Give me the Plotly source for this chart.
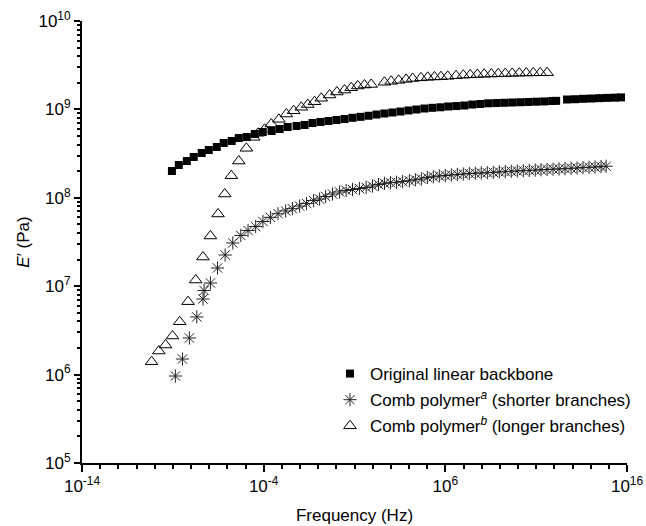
import numpy as np
import plotly.graph_objects as go

# ---- data (log10 values) ----
backbone_logf = [-9.05, -8.67, -8.23, -7.85, -7.41, -7.02, -6.58, -6.20, -5.76, -5.37,
                 -4.93, -4.49, -4.05, -3.56, -3.12, -2.68, -2.19, -1.75, -1.31, -0.87,
                 -0.43, 0.01, 0.45, 0.89, 1.33, 1.77, 2.21, 2.65, 3.09, 3.53,
                 3.97, 4.41, 4.85, 5.29, 5.73, 6.16, 6.60, 7.04, 7.48, 7.92,
                 8.36, 8.80, 9.24, 9.68, 10.12, 10.56, 11.00, 11.44, 11.88, 12.10,
                 12.70, 13.14, 13.58, 14.02, 14.46, 14.90, 15.34, 15.67]
backbone_logE = [8.303, 8.371, 8.416, 8.462, 8.507, 8.541, 8.575, 8.620, 8.643, 8.676,
                 8.688, 8.722, 8.744, 8.756, 8.778, 8.801, 8.812, 8.824, 8.846, 8.858,
                 8.869, 8.880, 8.891, 8.905, 8.916, 8.928, 8.942, 8.954, 8.965, 8.976,
                 8.988, 8.999, 9.010, 9.018, 9.024, 9.033, 9.038, 9.044, 9.055, 9.061,
                 9.069, 9.072, 9.075, 9.078, 9.081, 9.084, 9.087, 9.090, 9.095, 9.097,
                 9.112, 9.115, 9.120, 9.123, 9.127, 9.130, 9.133, 9.136]

comb_a_logf = [-8.86, -8.47, -8.09, -7.68, -7.34, -7.28, -6.93, -6.54, -6.12, -5.70,
               -5.26, -4.86, -4.44, -4.04, -3.63, -3.21, -2.79, -2.42, -2.02, -1.64,
               -1.25, -0.92, -0.59, -0.21, 0.18, 0.54, 0.89, 1.27, 1.64, 1.99,
               2.32, 2.65, 2.98, 3.31, 3.65, 4.02, 4.35, 4.68, 5.01, 5.34,
               5.67, 6.00, 6.33, 6.66, 6.99, 7.32, 7.65, 7.98, 8.31, 8.64,
               8.97, 9.30, 9.63, 9.96, 10.29, 10.62, 10.95, 11.27, 11.60, 11.93,
               12.26, 12.59, 12.92, 13.25, 13.58, 13.91, 14.24, 14.57, 14.85]
comb_a_logE = [5.984, 6.176, 6.414, 6.652, 6.855, 6.951, 7.036, 7.206, 7.353, 7.489,
               7.574, 7.630, 7.675, 7.732, 7.779, 7.820, 7.851, 7.877, 7.907, 7.936,
               7.969, 7.986, 8.015, 8.043, 8.066, 8.083, 8.094, 8.105, 8.117, 8.133,
               8.150, 8.164, 8.171, 8.176, 8.184, 8.193, 8.204, 8.213, 8.230, 8.238,
               8.247, 8.252, 8.258, 8.264, 8.269, 8.275, 8.278, 8.281, 8.284, 8.288,
               8.293, 8.296, 8.300, 8.303, 8.307, 8.310, 8.313, 8.317, 8.320, 8.324,
               8.327, 8.330, 8.334, 8.337, 8.342, 8.345, 8.348, 8.353, 8.357]

comb_b_logf = [-10.17, -9.77, -9.40, -9.02, -8.62, -8.16, -7.74, -7.34, -6.93, -6.51,
               -6.14, -5.78, -5.37, -4.95, -4.55, -4.31, -3.95, -3.58, -3.16, -2.75,
               -2.35, -1.93, -1.57, -1.20, -0.83, -0.37, 0.03, 0.45, 0.82, 1.18,
               1.55, 1.92, 2.65, 3.02, 3.43, 3.84, 4.20, 4.66, 5.03, 5.40,
               5.76, 6.13, 6.59, 6.99, 7.37, 7.76, 8.14, 8.53, 8.91, 9.30,
               9.68, 10.07, 10.45, 10.84, 11.22, 11.60]
comb_b_logE = [6.146, 6.267, 6.335, 6.437, 6.598, 6.825, 7.070, 7.330, 7.568, 7.817,
               8.043, 8.250, 8.416, 8.560, 8.684, 8.730, 8.775, 8.835, 8.888, 8.948,
               8.985, 9.024, 9.055, 9.087, 9.126, 9.163, 9.197, 9.219, 9.245, 9.265,
               9.276, 9.282, 9.307, 9.318, 9.329, 9.340, 9.350, 9.357, 9.363, 9.367,
               9.370, 9.374, 9.381, 9.387, 9.391, 9.395, 9.398, 9.400, 9.403, 9.405,
               9.407, 9.410, 9.412, 9.413, 9.414, 9.415]

x_tick_exps = [-14, -4, 6, 16]
y_tick_exps = [5, 6, 7, 8, 9, 10]

FONT = "Liberation Sans, Arial, Helvetica, sans-serif"

fig = go.Figure()
fig.add_trace(go.Scatter(
    x=np.power(10.0, backbone_logf), y=np.power(10.0, backbone_logE),
    mode="markers", name="Original linear backbone", legendgroup="a",
    marker=dict(symbol="square", size=8, color="black", line=dict(width=0))))
fig.add_trace(go.Scatter(
    x=np.power(10.0, comb_a_logf), y=np.power(10.0, comb_a_logE),
    mode="markers", name="Comb polymer<sup><i>a</i></sup> (shorter branches)", legendgroup="b",
    marker=dict(symbol="asterisk-open", size=11, color="#222222",
                line=dict(width=1, color="#222222"))))
fig.add_trace(go.Scatter(
    x=np.power(10.0, comb_b_logf), y=np.power(10.0, comb_b_logE),
    mode="markers", name="Comb polymer<sup><i>b</i></sup> (longer branches)", legendgroup="c",
    marker=dict(symbol="triangle-up-open", size=11, color="black",
                line=dict(width=1, color="black"))))

fig.update_layout(
    width=646, height=526,
    margin=dict(l=82, r=19, t=21, b=63, autoexpand=False),
    paper_bgcolor="white", plot_bgcolor="white",
    font=dict(family=FONT, size=16, color="black"),
    showlegend=True,
    legend=dict(x=0.455, y=0.242, xanchor="left", yanchor="top",
                bgcolor="rgba(0,0,0,0)", font=dict(size=17, family=FONT),
                traceorder="grouped", tracegroupgap=1, itemwidth=30),
)
fig.update_xaxes(
    type="log", range=[-14, 16], automargin=False,
    tickvals=[10.0 ** e for e in x_tick_exps],
    ticktext=["10<sup>%d</sup>" % e for e in x_tick_exps],
    ticks="outside", ticklen=7, tickwidth=1.5, tickcolor="black",
    minor=dict(tickvals=[10.0 ** k for k in range(-14, 17)], ticks="outside",
               ticklen=4, tickwidth=1.5, tickcolor="black"),
    showline=True, linewidth=2, linecolor="black", mirror=False,
    showgrid=False, zeroline=False,
    title=dict(text="Frequency (Hz)", font=dict(size=17, family=FONT), standoff=14),
    tickfont=dict(size=17, family=FONT),
)
fig.update_yaxes(
    type="log", range=[5, 10], automargin=False,
    tickvals=[10.0 ** e for e in y_tick_exps],
    ticktext=["10<sup>%d</sup>" % e for e in y_tick_exps],
    ticks="outside", ticklen=6, tickwidth=1.5, tickcolor="black",
    minor=dict(tickvals=[m * 10.0 ** k for k in range(5, 10) for m in range(2, 10)],
               ticks="outside", ticklen=3, tickwidth=1.5, tickcolor="black"),
    showline=True, linewidth=2, linecolor="black", mirror=False,
    showgrid=False, zeroline=False,
    title=dict(text="<i>E</i>′ (Pa)", font=dict(size=17, family=FONT), standoff=4),
    tickfont=dict(size=17, family=FONT),
)

fig.write_html("out.html")
